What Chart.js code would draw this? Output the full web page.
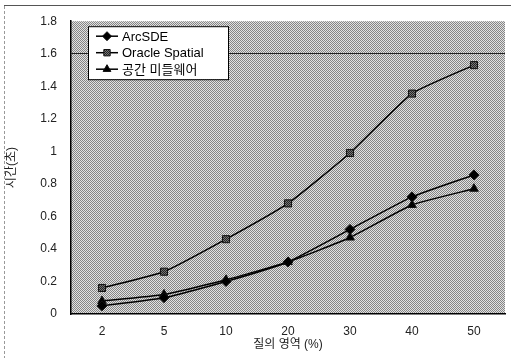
<!DOCTYPE html>
<html><head><meta charset="utf-8">
<script src="https://cdn.jsdelivr.net/npm/chart.js@4.4.0/dist/chart.umd.min.js"></script>
<style>html,body{margin:0;padding:0;background:#fff}#wrap{width:511px;height:358px;position:relative}</style>
</head><body><div id="wrap"><canvas id="c" width="511" height="358"></canvas></div>
<script>
const categories = ['2','5','10','20','30','40','50'];
const arcSDE = [0.05, 0.10, 0.20, 0.32, 0.52, 0.72, 0.855];
const oracleSpatial = [0.16, 0.26, 0.46, 0.68, 0.99, 1.355, 1.53];
const middleware = [0.08, 0.12, 0.21, 0.32, 0.47, 0.67, 0.77];
const seriesNames = ['ArcSDE', 'Oracle Spatial', '공간 미들웨어'];
const yTicks = [0, 0.2, 0.4, 0.6, 0.8, 1, 1.2, 1.4, 1.6, 1.8];

const FONT = '"Liberation Sans", "Noto Sans CJK KR", sans-serif';

function makePattern(ctx, a, b) {
  const p = document.createElement('canvas'); p.width = 2; p.height = 2;
  const g = p.getContext('2d');
  g.fillStyle = b; g.fillRect(0,0,2,2);
  g.fillStyle = a; g.fillRect(0,0,1,1); g.fillRect(1,1,1,1);
  return ctx.createPattern(p, 'repeat');
}
const ctx = document.getElementById('c').getContext('2d');
const bgPattern = makePattern(ctx, '#858585', '#e2e2e2');
const sqPattern = makePattern(ctx, '#222', '#777');

const bgPlugin = {
  id: 'bg',
  beforeDraw(chart) {
    const {ctx, chartArea: a} = chart;
    ctx.save();
    ctx.fillStyle = '#fff'; ctx.fillRect(0,0,chart.width,chart.height);
    ctx.strokeStyle = '#999'; ctx.lineWidth = 1;
    ctx.setLineDash([3,2]);
    ctx.beginPath(); ctx.moveTo(4.5, 6); ctx.lineTo(4.5, chart.height); ctx.stroke();
    ctx.setLineDash([]);
    ctx.strokeStyle = '#555';
    ctx.beginPath(); ctx.moveTo(4, 5.5); ctx.lineTo(chart.width, 5.5); ctx.stroke();
    ctx.fillStyle = bgPattern;
    ctx.fillRect(a.left, a.top, a.right - a.left, a.bottom - a.top);
    ctx.restore();
  }
};

const legendPlugin = {
  id: 'boxLegend',
  afterDatasetsDraw(chart) {
    const {ctx, chartArea: a} = chart;
    const x = a.left + 17, y = a.top + 5, w = 140, h = 53;
    ctx.save();
    ctx.fillStyle = '#fff'; ctx.fillRect(x, y, w, h);
    ctx.strokeStyle = '#000'; ctx.lineWidth = 1;
    ctx.strokeRect(x + 0.5, y + 0.5, w, h);
    ctx.font = '13px ' + FONT; ctx.textBaseline = 'middle'; ctx.fillStyle = '#000';
    chart.data.datasets.forEach((ds, i) => {
      const cy = y + 10 + i * 16.5;
      ctx.strokeStyle = '#000'; ctx.lineWidth = 1.5;
      ctx.beginPath(); ctx.moveTo(x + 8, cy); ctx.lineTo(x + 30, cy); ctx.stroke();
      ctx.fillStyle = ds.pointBackgroundColor;
      ctx.strokeStyle = '#111'; ctx.lineWidth = 1;
      Chart.helpers.drawPoint(ctx, {pointStyle: ds.pointStyle, radius: 4.5, borderWidth: 1}, x + 19, cy);
      ctx.fillStyle = '#000';
      ctx.fillText(ds.label, x + 34, cy + 1);
    });
    ctx.restore();
  }
};

function ds(label, data, style, fill) {
  return {label, data, borderColor: '#000', borderWidth: 1.5, pointStyle: style,
    pointRadius: 5, pointBackgroundColor: fill, pointBorderColor: '#111',
    pointBorderWidth: 1, tension: 0.15, fill: false};
}

new Chart(ctx, {
  type: 'line',
  data: {
    labels: categories,
    datasets: [
      ds(seriesNames[0], arcSDE, 'rectRot', '#000'),
      ds(seriesNames[1], oracleSpatial, 'rect', sqPattern),
      ds(seriesNames[2], middleware, 'triangle', '#000')
    ]
  },
  options: {
    responsive: false, animation: false,
    layout: {padding: {top: 15, right: 4, left: 0, bottom: 0}},
    plugins: {legend: {display: false}, tooltip: {enabled: false}},
    scales: {
      x: {
        offset: true,
        grid: {display: false, drawTicks: false},
        border: {display: true, color: '#000', width: 1.5},
        ticks: {color: '#222', font: {size: 12, family: FONT}, padding: 10},
        title: {display: true, text: '질의 영역 (%)', color: '#222', font: {size: 12, family: FONT}, padding: {top: 0, bottom: 6}},
        afterFit(s) { s.height = 44; }
      },
      y: {
        min: 0, max: 1.8,
        afterBuildTicks(s) { s.ticks = yTicks.map(v => ({value: v})); },
        grid: {drawTicks: false, color: c => (Math.abs(c.tick.value - 1.6) < 1e-6 ? '#222' : 'rgba(0,0,0,0)'), lineWidth: 1},
        border: {display: true, color: '#000', width: 1.5},
        ticks: {color: '#222', font: {size: 12, family: FONT}, padding: 14, callback: v => String(Math.round(v*10)/10)},
        title: {display: true, text: '시간(초)', color: '#222', font: {size: 12, family: FONT}, padding: {top: 4, bottom: 0}},
        afterFit(s) { s.width = 71; }
      }
    }
  },
  plugins: [bgPlugin, legendPlugin]
});
</script></body></html>
